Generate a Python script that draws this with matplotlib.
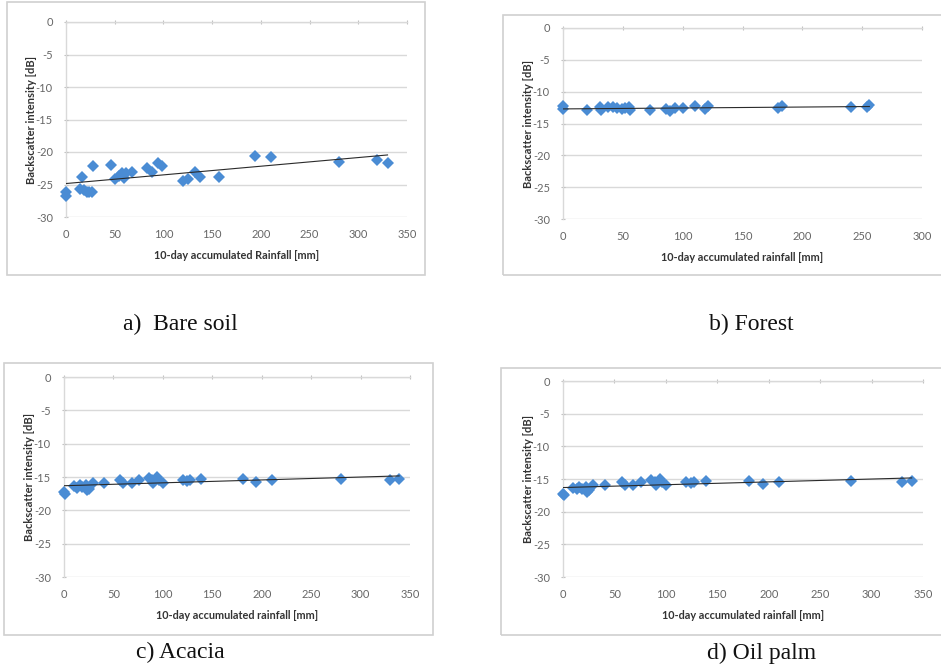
import numpy as np
import matplotlib
matplotlib.use("Agg")
import matplotlib.pyplot as plt
from matplotlib.patches import Rectangle

plt.rcParams["axes.unicode_minus"] = False

# ---------------- data ----------------
bare_x = [0, 0, 14.7, 16.4, 18, 22, 24, 27, 28, 46, 50, 54, 57, 60, 62, 68,
          83, 88, 94, 99, 120, 125, 132, 138, 157, 194, 210, 280, 319, 330]
bare_y = [-26.1, -26.8, -25.7, -23.8, -25.8, -26.1, -26.2, -26.1, -22.1, -22.0,
          -24.1, -23.7, -23.2, -24.0, -23.3, -23.0, -22.5, -23.0, -21.7, -22.2,
          -24.5, -24.2, -23.0, -23.9, -23.9, -20.6, -20.7, -21.6, -21.2, -21.7]

forest_x = [0, 0, 20, 31, 32, 38, 42, 45, 49, 52, 55, 56, 73, 86, 89, 94,
            100, 110, 119, 121, 180, 183, 241, 254, 256]
forest_y = [-12.3, -12.8, -12.9, -12.4, -12.9, -12.4, -12.4, -12.6, -12.7, -12.6,
            -12.4, -12.9, -12.9, -12.7, -13.1, -12.6, -12.6, -12.3, -12.8, -12.3,
            -12.6, -12.2, -12.4, -12.4, -12.1]

acacia_x = [0, 1, 10, 13.5, 16, 18, 22, 23.6, 25.6, 29, 40.5, 57, 60, 68.5, 76,
            86, 89, 90, 94, 96, 100, 120, 124, 127, 139, 181, 194, 210, 280, 330, 339]
acacia_y = [-17.25, -17.5, -16.35, -16.6, -16.25, -16.5, -16.25, -17.0, -16.75, -15.9,
            -15.9, -15.5, -15.9, -15.9, -15.5, -15.1, -15.5, -15.9, -15.0, -15.5,
            -15.9, -15.4, -15.6, -15.4, -15.35, -15.25, -15.75, -15.5, -15.25, -15.5, -15.35]

oilpalm_x = [0, 1, 10, 13.5, 16, 18, 22, 23.6, 25.6, 29, 40.5, 57, 60, 68.5, 76,
             86, 89, 90, 94, 96, 100, 120, 124, 127, 139, 181, 194, 210, 280, 330, 339]
oilpalm_y = [-17.25, -17.5, -16.35, -16.6, -16.25, -16.5, -16.25, -17.0, -16.75, -15.9,
             -15.9, -15.5, -15.9, -15.9, -15.5, -15.1, -15.5, -15.9, -15.0, -15.5,
             -15.9, -15.4, -15.6, -15.4, -15.35, -15.25, -15.75, -15.5, -15.25, -15.5, -15.35]

y_ticks = [0, -5, -10, -15, -20, -25, -30]
ylabel = "Backscatter intensity [dB]"
xlabels = ["10-day accumulated Rainfall [mm]", "10-day accumulated rainfall [mm]",
           "10-day accumulated rainfall [mm]", "10-day accumulated rainfall [mm]"]
captions = ["a)  Bare soil", "b) Forest", "c) Acacia", "d) Oil palm"]
xmaxes = [350, 300, 350, 350]

# ---------------- layout (pixels) ----------------
W, H = 941, 667
fig = plt.figure(figsize=(W / 100, H / 100), dpi=100)

def fx(px):
    return px / W

def fy(py):
    return 1 - py / H

plot_px = [(66, 407, 22, 217), (563, 922, 28, 219), (64, 410, 377, 577), (563, 923, 381, 577)]
frame_px = [(7, 425, 2, 275), (503, 960, 15, 275), (4, 433, 363, 635), (501, 960, 368, 635)]
caption_px = [(180, 324), (751, 324), (180, 652), (762, 653)]

datasets = [(bare_x, bare_y), (forest_x, forest_y), (acacia_x, acacia_y), (oilpalm_x, oilpalm_y)]

marker_color = "#4a8cd4"
grid_color = "#d9d9d9"
tick_color = "#666666"
sans = ["Lato", "DejaVu Sans"]

for i, ((x0, x1, yt, yb), (fx0, fx1, fyt, fyb), (xs, ys)) in enumerate(zip(plot_px, frame_px, datasets)):
    fig.patches.append(Rectangle((fx(fx0), fy(fyb)), fx(fx1 - fx0), (fyb - fyt) / H,
                                 transform=fig.transFigure, fill=False,
                                 edgecolor="#d0d0d0", linewidth=1.2, zorder=0))
    ax = fig.add_axes([fx(x0), fy(yb), fx(x1 - x0), (yb - yt) / H])
    ax.set_xlim(0, xmaxes[i])
    ax.set_ylim(-30, 0)
    ax.set_yticks(y_ticks)
    ax.set_xticks(np.arange(0, xmaxes[i] + 1, 50))
    ax.grid(axis="y", color=grid_color, linewidth=1.0)
    ax.set_axisbelow(True)
    for s in ["right", "bottom"]:
        ax.spines[s].set_visible(False)
    for s in ["left", "top"]:
        ax.spines[s].set_color(grid_color)
        ax.spines[s].set_linewidth(1.0)
    ax.tick_params(axis="x", which="both", top=True, bottom=False, direction="inout",
                   length=3, color="#bfbfbf", labelsize=8, labelcolor=tick_color, pad=7)
    ax.tick_params(axis="y", which="both", left=True, direction="inout", length=3,
                   color="#bfbfbf", labelsize=8, labelcolor=tick_color, pad=8)
    for lab in ax.get_xticklabels() + ax.get_yticklabels():
        lab.set_fontfamily(sans)

    xs_a = np.array(xs)
    ys_a = np.array(ys)
    ax.plot(xs_a, ys_a, linestyle="none", marker="D", markersize=6.3,
            color=marker_color, markeredgewidth=0, zorder=3, clip_on=False)
    k, b = np.polyfit(xs_a, ys_a, 1)
    xl = np.array([xs_a.min(), xs_a.max()])
    ax.plot(xl, k * xl + b, color="#2a2a2a", linewidth=0.8, zorder=4)

    ax.set_xlabel(xlabels[i], fontsize=7.8, fontweight="bold", color="#333333",
                  family=sans, labelpad=7)
    ax.set_ylabel(ylabel, fontsize=8, fontweight="bold", color="#333333",
                  family=sans, labelpad=-1)

    cx, cy = caption_px[i]
    fig.text(fx(cx), fy(cy), captions[i], ha="center", va="center",
             fontsize=17, family=["Liberation Serif", "DejaVu Serif"], color="#111111")

fig.savefig("out.png", dpi=100, facecolor="white")
